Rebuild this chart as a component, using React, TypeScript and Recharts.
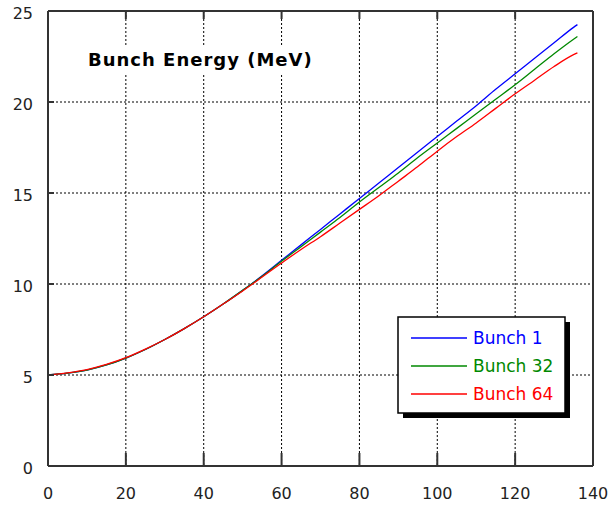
import React from 'react';
import { LineChart, Line, XAxis, YAxis, CartesianGrid } from 'recharts';

const xValues = [0, 5, 10, 15, 20, 25, 30, 35, 40, 45, 50, 55, 60, 65, 70, 75, 80, 85, 90, 95, 100, 105, 110, 115, 120, 125, 130, 135, 136];
const bunch1 = [5.0, 5.1, 5.27, 5.55, 5.93, 6.4, 6.95, 7.55, 8.2, 8.9, 9.65, 10.45, 11.3, 12.15, 13.0, 13.85, 14.7, 15.55, 16.4, 17.25, 18.1, 18.95, 19.8, 20.7, 21.55, 22.4, 23.25, 24.1, 24.25];
const bunch32 = [5.0, 5.1, 5.27, 5.55, 5.93, 6.4, 6.95, 7.55, 8.2, 8.9, 9.65, 10.42, 11.25, 12.05, 12.85, 13.65, 14.5, 15.3, 16.1, 16.95, 17.75, 18.55, 19.35, 20.15, 20.95, 21.8, 22.65, 23.45, 23.6];
const bunch64 = [5.0, 5.12, 5.3, 5.58, 5.95, 6.42, 6.95, 7.55, 8.2, 8.9, 9.62, 10.38, 11.15, 11.9, 12.6, 13.35, 14.1, 14.85, 15.65, 16.45, 17.3, 18.1, 18.85, 19.65, 20.45, 21.2, 21.95, 22.6, 22.7];
const xTicks = [0, 20, 40, 60, 80, 100, 120, 140];
const yTicks = [0, 5, 10, 15, 20, 25];

const series = [
  { key: 'b1', name: 'Bunch 1', color: '#0000ff' },
  { key: 'b32', name: 'Bunch 32', color: '#008800' },
  { key: 'b64', name: 'Bunch 64', color: '#ff0000' },
];

const data = xValues.map((x, i) => ({ x, b1: bunch1[i], b32: bunch32[i], b64: bunch64[i] }));

const font = '"DejaVu Sans", sans-serif';
const frame = '#333333';

export default function App() {
  return (
    <div style={{ position: 'absolute', left: 0, top: 0, background: '#fff' }}>
      <LineChart width={609} height={505} data={data} margin={{ top: 10, right: 15, bottom: 0, left: 0 }}>
        <CartesianGrid stroke="#000" strokeDasharray="2 2" />
        <g>
          <rect x={82} y={45} width={240} height={30} fill="#fff" />
          <text x={88} y={66} fontFamily={font} fontWeight="bold" fontSize={18} letterSpacing={1} fill="#000">
            Bunch Energy (MeV)
          </text>
        </g>
        <XAxis
          type="number"
          dataKey="x"
          domain={[0, 140]}
          ticks={xTicks}
          height={39}
          axisLine={{ stroke: frame, strokeWidth: 2 }}
          tickLine={{ stroke: frame, strokeWidth: 2 }}
          tickSize={-13}
          tickMargin={35}
          tick={{ fill: '#222', fontSize: 16, fontFamily: font }}
        />
        <XAxis
          xAxisId="top"
          orientation="top"
          type="number"
          dataKey="x"
          domain={[0, 140]}
          ticks={xTicks}
          height={1}
          axisLine={{ stroke: frame, strokeWidth: 2 }}
          tickLine={{ stroke: frame, strokeWidth: 2 }}
          tickSize={-8}
          tick={() => <g />}
        />
        <YAxis
          type="number"
          domain={[0, 25]}
          ticks={yTicks}
          width={48}
          axisLine={{ stroke: frame, strokeWidth: 2 }}
          tickLine={{ stroke: frame, strokeWidth: 2 }}
          tickSize={-6}
          tickMargin={21}
          tick={{ fill: '#222', fontSize: 16, fontFamily: font, dy: 2 }}
        />
        <YAxis
          yAxisId="right"
          orientation="right"
          type="number"
          domain={[0, 25]}
          ticks={yTicks}
          width={1}
          axisLine={{ stroke: frame, strokeWidth: 2 }}
          tickLine={{ stroke: frame, strokeWidth: 2 }}
          tickSize={-8}
          tick={() => <g />}
        />
        {series.map((s) => (
          <Line
            key={s.key}
            type="monotone"
            dataKey={s.key}
            stroke={s.color}
            strokeWidth={1.3}
            dot={false}
            isAnimationActive={false}
          />
        ))}
        <g>
          <rect x={403} y={322} width={167} height={96} fill="#000" />
          <rect x={398} y={317} width={167} height={96} fill="#fff" stroke="#000" strokeWidth={1.5} />
          {series.map((s, i) => (
            <g key={s.key}>
              <line x1={411} x2={467} y1={338 + i * 28} y2={338 + i * 28} stroke={s.color} strokeWidth={1.3} />
              <text x={473} y={344 + i * 28} fontFamily={font} fontSize={17} fill={s.color}>
                {s.name}
              </text>
            </g>
          ))}
        </g>
      </LineChart>
    </div>
  );
}
